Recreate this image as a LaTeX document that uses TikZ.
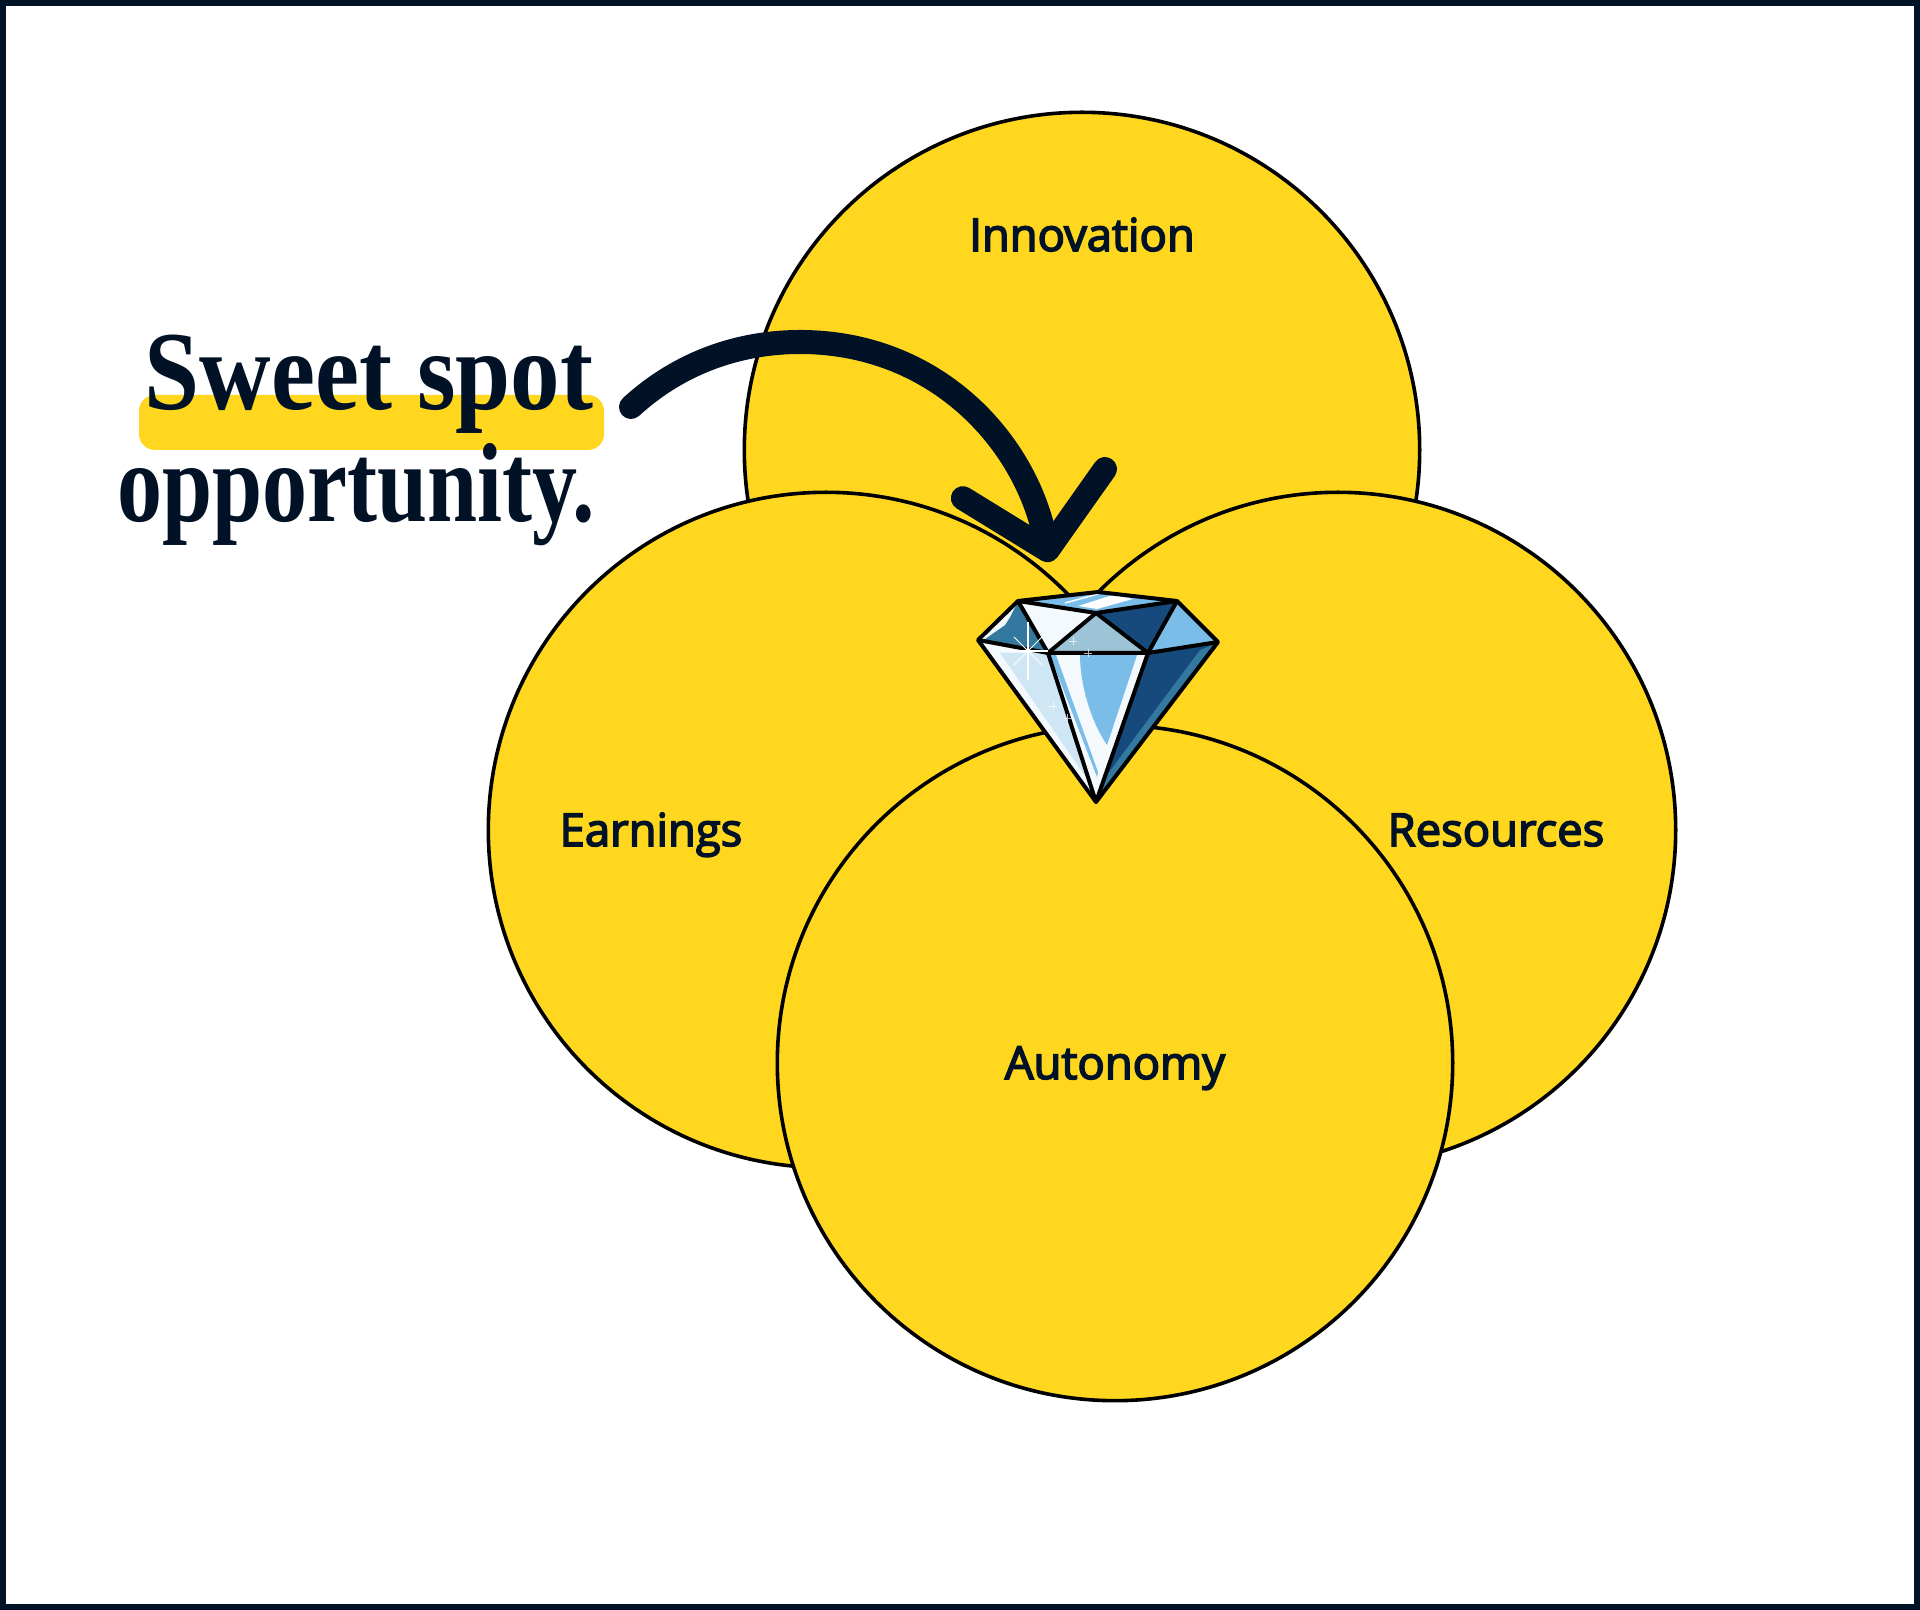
\documentclass[tikz,border=0pt]{standalone}
\usepackage{fontspec}
\setmainfont{Open Sans}
\newfontfamily\labelfont[FakeBold=3.5]{Open Sans}
\newfontfamily\brushfont{Liberation Serif}
\usetikzlibrary{arrows.meta}
\definecolor{navy}{HTML}{021226}
\definecolor{sun}{HTML}{FFD71E}
\definecolor{gemdark}{HTML}{174A7C}
\definecolor{gemmid}{HTML}{33789F}
\definecolor{gemsky}{HTML}{7ABDE9}
\definecolor{gemgrey}{HTML}{9CC3D6}
\definecolor{gemice}{HTML}{CFE6F5}
\definecolor{gemwhite}{HTML}{F3F9FD}
\tikzset{
  bubble/.style={circle,draw=black,fill=sun,line width=0.036cm,minimum size=6.75cm,inner sep=0pt,outer sep=0pt},
  bubblelabel/.style={font=\labelfont\fontsize{12.9}{15}\selectfont,text=navy,inner sep=0pt,anchor=base},
  brushlabel/.style={font=\brushfont\bfseries\fontsize{32}{36}\selectfont,text=navy,inner sep=0pt,anchor=base},
  gemline/.style={draw=black,line width=0.04cm,line join=round},
}
\begin{document}
\begin{tikzpicture}[x=0.01cm,y=-0.01cm]
  \useasboundingbox (0,0) rectangle (1920,1610);
  \draw[navy,line width=0.06cm,fill=white] (3,3) rectangle (1917,1607);
  % The four circles
  \node[bubble] (innovationcircle) at (1082,450) {};
  \node[bubble] (resourcescircle)  at (1338,830) {};
  \node[bubble] (earningscircle)   at (826,830) {};
  \node[bubble] (autonomycircle)   at (1115,1063) {};
  \node[bubblelabel] (innovation) at (1082,251) {Innovation};
  \node[bubblelabel] (earnings)   at (651,846) {Earnings};
  \node[bubblelabel] (resources)  at (1496,846) {Resources};
  \node[bubblelabel] (autonomy)   at (1115,1079) {Autonomy};
  % The diamond
  \coordinate (gemL)  at (978,640);
  \coordinate (gemTL) at (1018,601);
  \coordinate (gemT)  at (1098,592);
  \coordinate (gemTR) at (1177,601);
  \coordinate (gemR)  at (1218,642);
  \coordinate (gemB)  at (1096,802);
  \coordinate (gemC)  at (1096,613);
  \coordinate (gemGL) at (1048,653);
  \coordinate (gemGR) at (1148,653);
  \fill[gemsky]   (gemTL) -- (gemT) -- (gemTR) -- (gemC) -- cycle;
  \fill[white]    (1078,606) -- (1113,595) -- (1133,599) -- (1097,609) -- cycle;
  \draw[white,line width=0.015cm] (1065,603) -- (1098,594);
  \fill[gemmid]   (gemL) -- (gemTL) -- (gemGL) -- cycle;
  \fill[gemwhite] (gemL) -- (gemTL) -- (1010,617) -- (1005,625) -- (985,639) -- cycle;
  \fill[gemwhite] (gemTL) -- (gemC) -- (gemGL) -- cycle;
  \fill[gemgrey]  (gemC) -- (gemGL) -- (gemGR) -- cycle;
  \fill[gemdark]  (gemC) -- (gemTR) -- (gemGR) -- cycle;
  \fill[gemsky]   (gemTR) -- (gemR) -- (gemGR) -- cycle;
  \fill[gemwhite] (gemL) -- (gemGL) -- (gemB) -- cycle;
  \fill[gemice]   (1000,653) -- (1046,653) -- (1083,757) -- (1090,783) -- cycle;
  \fill[gemwhite] (gemGL) -- (gemGR) -- (gemB) -- cycle;
  \fill[gemsky]   (1080,655) -- (1137,655) -- (1107,745) .. controls (1090,720) and (1080,683) .. (1080,655) -- cycle;
  \fill[gemsky]   (1050,655) -- (1056,655) -- (1098,772) -- (1097,777) -- cycle;
  \fill[gemdark]  (gemGR) -- (gemR) -- (gemB) -- cycle;
  \fill[gemmid]   (1200,650) -- (1213,645) -- (1098,797) -- (1107,775) -- cycle;
  \draw[gemline] (gemL) -- (gemTL) -- (gemT) -- (gemTR) -- (gemR) -- (gemB) -- cycle;
  \draw[gemline] (gemL) -- (gemGL) -- (gemGR) -- (gemR);
  \draw[gemline] (gemTL) -- (gemC) -- (gemTR);
  \draw[gemline] (gemTL) -- (gemGL) -- (gemC) -- (gemGR) -- (gemTR);
  \draw[gemline] (gemGL) -- (gemB) -- (gemGR);
  % Sparkles
  \draw[white,line width=0.008cm] (1014,637) -- (1042,665) (1042,637) -- (1014,665);
  \draw[white,line width=0.012cm]  (1028,622) -- (1028,680) (1010,651) -- (1048,651);
  \foreach \sx/\sy in {1088/653,1073/641,1053/706,1067/718}
    \draw[white,opacity=.7,line width=0.008cm] (\sx-4,\sy) -- (\sx+4,\sy) (\sx,\sy-4) -- (\sx,\sy+4);
  % The note and its arrow
  \fill[sun,rounded corners=0.16cm] (139,395) rectangle (604,450);
  \node[brushlabel] (sweetspot)   at (369,410) {\scalebox{.88}[1]{Sweet spot}};
  \node[brushlabel] (opportunity) at (356,522) {\scalebox{.80}[1]{opportunity.}};
  \coordinate (arrowstart) at (631,407);
  \coordinate (arrowtip)   at (1050,562);
  \draw[navy,line width=0.24cm,line cap=round,-{Straight Barb[round,length=0.68cm,width=1.45cm]}]
    (arrowstart) .. controls (680,362) and (740,342) .. (800,342)
    .. controls (935,342) and (1025,440) .. (arrowtip);
\end{tikzpicture}
\end{document}
